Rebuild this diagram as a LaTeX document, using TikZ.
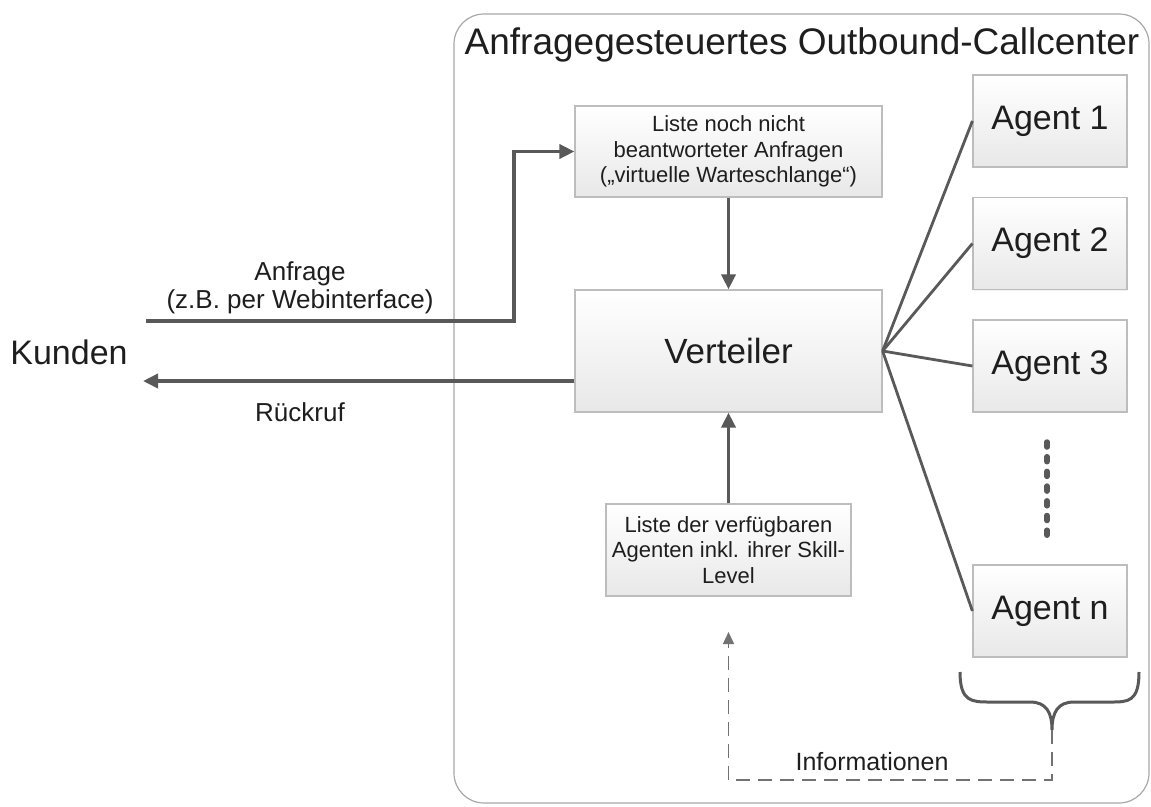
\documentclass[tikz,border=0pt]{standalone}
\usepackage{fontspec}
\setmainfont{Liberation Sans}
\usetikzlibrary{arrows.meta,calc,shadows}
\definecolor{linegray}{HTML}{595959}
\definecolor{boxborder}{HTML}{BDBDBD}
\definecolor{framegray}{HTML}{A8A8A8}
\definecolor{txt}{HTML}{1E1E1E}
\newcommand\myfs[2]{\fontsize{#1}{#2}\selectfont}
\tikzset{
  box/.style={draw=boxborder, line width=1.2pt, top color=white, bottom color=black!9,
    inner sep=0pt, align=center, text=txt,
    drop shadow={shadow xshift=1pt, shadow yshift=-1.2pt, fill=black!20, opacity=0.25}},
  agentbox/.style={box, minimum width=154pt, minimum height=92pt, font=\myfs{34}{40}},
  smallbox/.style={box, font=\myfs{22}{25.5}},
  lbl/.style={text=txt, align=center, inner sep=0pt},
  conn/.style={draw=linegray, line width=3.6pt},
  arr/.style={conn, -{Triangle[length=15pt,width=14pt]}},
  agentline/.style={draw=linegray, line width=2.8pt},
  dashconn/.style={draw=linegray!85, line width=1.5pt, dash pattern=on 14pt off 8pt,
    -{Triangle[length=12pt,width=11pt]}},
}
\begin{document}
\begin{tikzpicture}[x=1pt,y=-1pt]
\useasboundingbox (0,0) rectangle (1151,806);
% outer frame
\draw[framegray, line width=1.2pt, rounded corners=30pt] (454,14) rectangle (1149,803);
\node[lbl, font=\myfs{37}{42}] (title) at (802,45) {Anfragegesteuertes Outbound-Callcenter};

% boxes
\node[smallbox, minimum width=307pt, minimum height=91pt] (list1) at (728.5,151.5)
  {Liste noch nicht\\beantworteter Anfragen\\(„virtuelle Warteschlange“)};
\node[box, minimum width=307pt, minimum height=122pt, font=\myfs{35}{40}] (verteiler) at (728.5,351) {Verteiler};
\node[smallbox, minimum width=245pt, minimum height=92pt] (list2) at (728.5,550)
  {Liste der verfügbaren\\Agenten inkl. ihrer Skill-\\Level};

\node[agentbox] (a1) at (1050,121) {Agent 1};
\node[agentbox] (a2) at (1050,243.5) {Agent 2};
\node[agentbox] (a3) at (1050,366) {Agent 3};
\node[agentbox] (an) at (1050,611) {Agent n};

% Kunden
\node[lbl, font=\myfs{34}{40}] (kunden) at (69,352) {Kunden};

% labels
\node[lbl, font=\myfs{26}{27.5}] (anfrage) at (300,288) {Anfrage\\(z.B. per Webinterface)};
\node[lbl, font=\myfs{26}{28}] (rueckruf) at (300,412) {Rückruf};
\node[lbl, font=\myfs{25}{28}] (info) at (872,762) {Informationen};

% connectors
\coordinate (kin) at (146,321);
\coordinate (bend) at (514,321);
\draw[arr] (kin) -- (bend) |- (list1.west);
\coordinate (kout) at (143,381);
\draw[arr] ($(verteiler.west)+(0,30)$) -- (kout);
\draw[arr] (list1.south) -- (verteiler.north);
\draw[arr] (list2.north) -- (verteiler.south);

\draw[agentline] (verteiler.east) -- (a1.west);
\draw[agentline] (verteiler.east) -- (a2.west);
\draw[agentline] (verteiler.east) -- (a3.west);
\draw[agentline] (verteiler.east) -- (an.west);

% dotted ellipsis
\draw[linegray, line width=5.5pt, line cap=round, dash pattern=on 5pt off 9.7pt] (1047,442) -- (1047,536);

% brace
\coordinate (bracetip) at (1052,730);
\draw[linegray, line width=3pt] (960,672) .. controls (960,702) and (972,702) .. (990,702)
  -- (1030,702) .. controls (1046,702) and (1052,712) .. (bracetip)
  .. controls (1052,712) and (1058,702) .. (1074,702)
  -- (1111,702) .. controls (1128,702) and (1139,702) .. (1139,672);

% dashed information flow
\coordinate (infocorner) at (728.5,780);
\coordinate (infotip) at (728.5,632);
\draw[dashconn] (bracetip) |- (infocorner) -- (infotip);
\end{tikzpicture}
\end{document}
